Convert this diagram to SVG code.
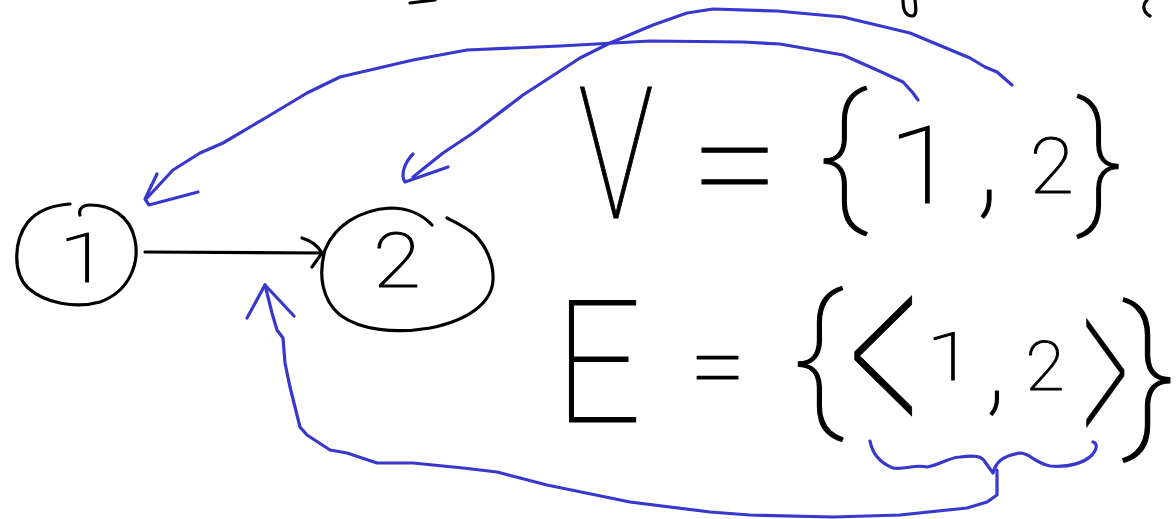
<svg xmlns="http://www.w3.org/2000/svg" width="1176" height="519" viewBox="0 0 1176 519">
<style>
.ink{fill:none;stroke:#000;stroke-width:3.2;stroke-linecap:round;stroke-linejoin:round}
.blue{fill:none;stroke:#3838cc;stroke-width:3.2;stroke-linecap:round;stroke-linejoin:round}
.t{font-family:Roboto,"DejaVu Sans",sans-serif;font-weight:100;fill:#000;stroke:#000;stroke-width:1.1;stroke-linejoin:round;text-anchor:middle}
.a{stroke-width:0.5}
</style>
<rect width="1176" height="519" fill="#fff"/>
<g id="fragments">
<path class="ink" d="M410,3 L435,0"/>
<path class="ink" d="M903,0 C903,10 906,16 912,16 C917,16 916,8 915,0"/>
<path class="ink" d="M1147,0 C1142,5 1143,12 1150,16"/>
</g>
<g id="node1">
<path class="ink" d="M80,215 C78,208 84,205 90,205 C110,205 130,215 135,240 C140,265 128,292 100,302 C75,309 45,303 28,288 C12,272 14,240 28,222 C38,210 55,205 70,204"/>
<text class="t" font-size="68" transform="translate(84,282) scale(1.35,1)">1</text>
</g>
<g id="node2">
<path class="ink" d="M432,225 C420,212 405,208 390,208 C360,210 335,225 325,250 C318,275 322,300 340,315 C360,330 395,334 430,328 C470,320 492,302 493,280 C494,262 485,245 475,235 C466,227 455,222 447,218"/>
<text class="t" font-size="76" transform="translate(397,287) scale(1.15,1)">2</text>
</g>
<g id="vset">
<text class="t" font-size="183" transform="translate(616,218) scale(0.69,1)">V</text>
<text class="t" x="735" y="218" font-size="160">=</text>
<text class="t" x="843" y="204" font-size="150">{</text>
<text class="t" font-size="107" transform="translate(923,203) scale(1.2,1)">1</text>
<text class="t" x="988" y="201" font-size="140">,</text>
<text class="t" font-size="77" transform="translate(1052,193) scale(1.05,1)">2</text>
<text class="t" x="1100" y="207" font-size="144">}</text>
</g>
<g id="eset">
<text class="t" font-size="170" transform="translate(598,422) scale(0.9,1)">E</text>
<text class="t" x="718" y="400" font-size="100">=</text>
<text class="t" x="818" y="408" font-size="156">{</text>
<text class="t a" font-size="140" transform="translate(885,455) scale(1,2.18)">&lt;</text>
<text class="t" font-size="66" transform="translate(950,380) scale(1.3,1)">1</text>
<text class="t" x="996" y="400" font-size="120">,</text>
<text class="t" font-size="68" transform="translate(1045,390) scale(1.05,1)">2</text>
<text class="t a" font-size="140" transform="translate(1105,463) scale(0.65,1.97)">&gt;</text>
<text class="t" x="1149" y="427" font-size="165">}</text>
</g>
<g id="connectors">
<path class="ink" d="M145,252 L322,253"/>
<path class="ink" d="M302,238 C312,241 318,246 322,253 L312,267"/>
<path class="blue" d="M918,100 L913,93 L903,82 L877,70 L843,55 L780,44 L743,42 L650,41 L560,46 L467,50 L413,60 L340,77 L307,93 L267,117 L223,143 L200,153 L173,170 L147,198"/>
<path class="blue" d="M157,174 L145,199 L149,205 L198,192"/>
<path class="blue" d="M1012,85 L997,72 L985,67 L970,58 L910,33 L843,17 L777,11 L713,9 L687,13 L653,25 L610,43 L580,58 L523,95 L473,133 L443,153 L413,177"/>
<path class="blue" d="M413,154 C405,162 400,175 405,182 L448,167"/>
<path class="blue" d="M997,470 L997,495 L987,502 L967,508 L900,515 L833,517 L750,515 L710,512 L630,502 L547,485 L497,472 L463,468 L413,463 L377,463 L347,453 L330,450 L307,435 L300,427 L295,407 L290,387 L285,363 L283,338 L277,330 L272,313 L265,285"/>
<path class="blue" d="M247,318 L265,285 L294,316"/>
<path class="blue" d="M870,441 C872,452 878,462 893,468 C905,470 915,464 927,467 C940,465 950,457 960,457 C975,455 982,456 985,462 L993,473 C996,462 1002,456 1020,453 C1030,453 1033,462 1050,466 C1070,468 1085,462 1092,455 C1098,448 1097,443 1093,442"/>
</g>
</svg>
